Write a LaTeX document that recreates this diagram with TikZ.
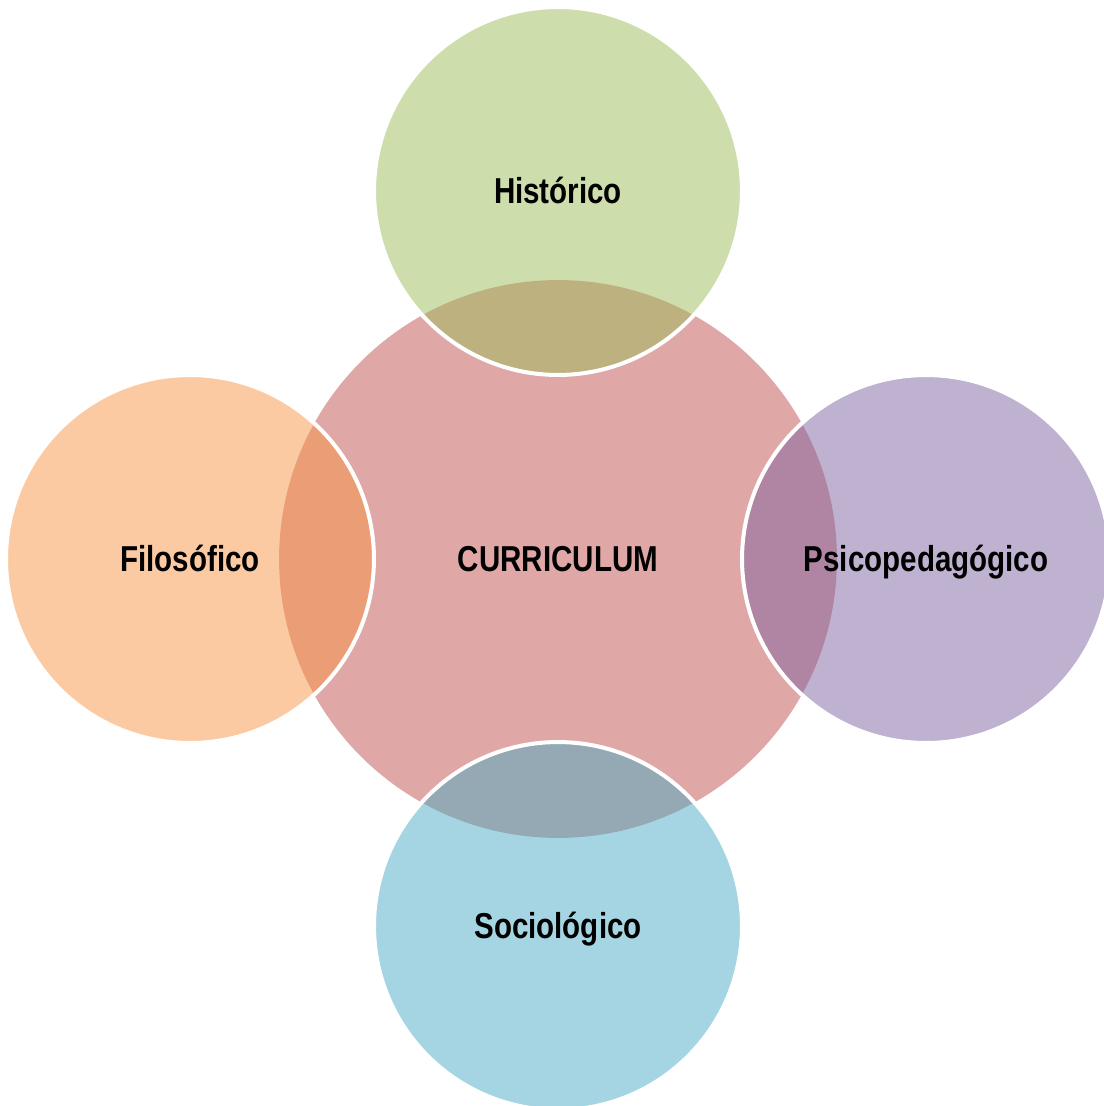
\documentclass[tikz,border=0pt]{standalone}
\usepackage{fontspec}
\newfontfamily\labelfont[FakeStretch=0.82]{Liberation Sans}
\definecolor{corered}{HTML}{C0504D}
\definecolor{histgreen}{HTML}{9BBB59}
\definecolor{filorange}{HTML}{F79646}
\definecolor{psicpurple}{HTML}{8064A2}
\definecolor{socblue}{HTML}{4BACC6}

\begin{document}
\begin{tikzpicture}
  [x=0.02cm, y=-0.02cm,
   every node/.style={circle, inner sep=0pt, text height=14.7pt, text depth=0pt,
     font={\labelfont\bfseries\fontsize{20.5}{24}\selectfont}},
%   core circle has no white rim
   core/.style={fill=corered, fill opacity=0.5, text opacity=1, minimum size=11.16cm},
   area/.style={draw=white, line width=0.08cm, fill opacity=0.5, draw opacity=1,
     text opacity=1, minimum size=7.36cm}]
 \useasboundingbox (0,0) rectangle (1103,1106);
 \node[core] (curriculum) at (558,559) {CURRICULUM};
 \foreach \name/\x/\y/\col/\txt in {historico/558/191/histgreen/Histórico,
     filosofico/190/559/filorange/Filosófico,
     psicopedagogico/926/559/psicpurple/Psicopedagógico,
     sociologico/558/926/socblue/Sociológico}
   \node[area, fill=\col] (\name) at (\x,\y) {\txt};
\end{tikzpicture}
\end{document}
